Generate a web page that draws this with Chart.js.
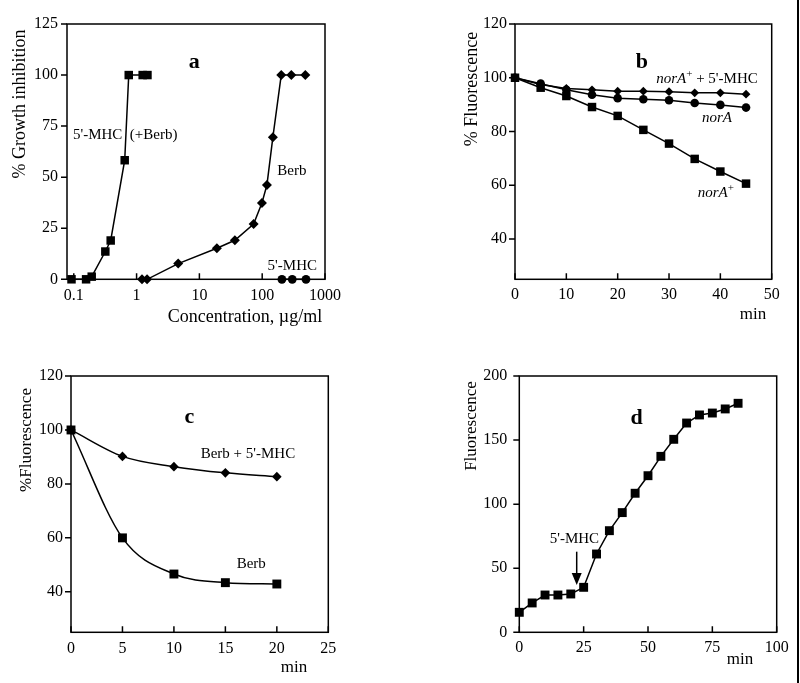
<!DOCTYPE html>
<html lang="en">
<head>
<meta charset="UTF-8" />
<title>5'-MHC / berberine figure</title>
<script src="https://cdn.jsdelivr.net/npm/chart.js"></script>
<style>
  body { margin: 0; background: #fff; }
  .page { position: relative; width: 800px; height: 683px; overflow: hidden; }
  .page canvas { position: absolute; }
  .edge { position: absolute; left: 797px; top: 0; width: 2px; height: 683px; background: #000; }
</style>
</head>
<body>
<div class="page">
  <canvas id="panelA" width="400" height="330" style="left:0;top:0"></canvas>
  <canvas id="panelB" width="400" height="330" style="left:400px;top:0"></canvas>
  <canvas id="panelC" width="400" height="353" style="left:0;top:330px"></canvas>
  <canvas id="panelD" width="400" height="353" style="left:400px;top:330px"></canvas>
  <div class="edge"></div>
</div>

<script>
// --- panel a: growth inhibition vs concentration (log x) ---
const concMhcBerb  = [0.092, 0.157, 0.193, 0.318, 0.387, 0.647, 0.75, 1.25, 1.49];
const inhibMhcBerb = [0, 0, 1.3, 13.6, 19, 58.3, 100, 100, 100];
const concBerb  = [1.22, 1.47, 4.6, 19, 36.7, 73, 99, 119, 148, 201, 291, 486];
const inhibBerb = [0, 0, 7.7, 15.2, 19.1, 27.1, 37.4, 46.2, 69.6, 100, 100, 100];
const concMhc  = [206, 301, 498];
const inhibMhc = [0, 0, 0];
const ticksA_x = [0.1, 1, 10, 100, 1000];
const ticksA_y = [0, 25, 50, 75, 100, 125];

// --- panel b: % fluorescence vs min ---
const minutesB   = [0, 5, 10, 15, 20, 25, 30, 35, 40, 45];
const norAplus   = [100, 96.3, 93.2, 89.1, 85.8, 80.6, 75.5, 69.8, 65.1, 60.6];
const norA       = [100, 97.8, 95.5, 93.7, 92.4, 92.0, 91.6, 90.6, 89.9, 88.9];
const norAplusMhc = [100, 97.5, 96.0, 95.5, 95.0, 95.0, 94.8, 94.4, 94.4, 93.9];
const ticksB_x = [0, 10, 20, 30, 40, 50];
const ticksB_y = [40, 60, 80, 100, 120];

// --- panel c ---
const minutesC = [0, 5, 10, 15, 20];
const berbC    = [100, 60, 46.6, 43.4, 42.9];
const berbMhcC = [100, 90.2, 86.4, 84.1, 82.7];
const ticksC_x = [0, 5, 10, 15, 20, 25];
const ticksC_y = [40, 60, 80, 100, 120];

// --- panel d ---
const minutesD = [0, 5, 10, 15, 20, 25, 30, 35, 40, 45, 50, 55, 60, 65, 70, 75, 80, 85];
const fluorD   = [15.6, 22.9, 29.1, 29.1, 29.9, 35.1, 61.1, 79.3, 93.4, 108.5, 122.2, 137.3, 150.6, 163.3, 169.6, 171.1, 174.3, 178.7];
const ticksD_x = [0, 25, 50, 75, 100];
const ticksD_y = [0, 50, 100, 150, 200];

const SERIF = "'Liberation Serif', 'DejaVu Serif', serif";

function pts(xs, ys) {
  return xs.map((x, i) => ({ x: x, y: ys[i] }));
}

function series(xs, ys, shape, r, smooth) {
  return {
    data: pts(xs, ys),
    borderColor: '#000',
    backgroundColor: '#000',
    borderWidth: 1.5,
    pointStyle: shape,
    pointRadius: r,
    pointHoverRadius: r,
    pointBorderWidth: 0,
    cubicInterpolationMode: smooth ? 'monotone' : 'default',
    clip: false
  };
}

function fontFor(p, size) {
  const sz = p.sup ? Math.round(size * 0.75) : size;
  return (p.bold ? 'bold ' : '') + (p.italic ? 'italic ' : '') + sz + 'px ' + SERIF;
}

function drawNote(ctx, parts, px, py, size, align, rot) {
  ctx.save();
  ctx.translate(px, py);
  if (rot) ctx.rotate(rot);
  ctx.textBaseline = 'middle';
  ctx.textAlign = 'left';
  ctx.fillStyle = '#000';
  const widths = parts.map(p => { ctx.font = fontFor(p, size); return ctx.measureText(p.t).width; });
  const total = widths.reduce((a, b) => a + b, 0);
  let x = align === 'center' ? -total / 2 : 0;
  parts.forEach((p, i) => {
    ctx.font = fontFor(p, size);
    ctx.fillText(p.t, x, p.sup ? -size * 0.3 : 0);
    x += widths[i];
  });
  ctx.restore();
}

// frame, ticks (x inward, y outward), notes and arrows
const paper = {
  id: 'paper',
  afterDraw(chart, args, opts) {
    const { ctx, chartArea: a, scales: { x, y } } = chart;
    ctx.save();
    ctx.strokeStyle = '#000';
    ctx.lineWidth = 1.5;
    ctx.strokeRect(a.left, a.top, a.right - a.left, a.bottom - a.top);
    ctx.beginPath();
    x.ticks.forEach(t => {
      const px = x.getPixelForValue(t.value);
      ctx.moveTo(px, a.bottom);
      ctx.lineTo(px, a.bottom - 6);
    });
    y.ticks.forEach(t => {
      const py = y.getPixelForValue(t.value);
      ctx.moveTo(a.left, py);
      ctx.lineTo(a.left - 6, py);
    });
    ctx.stroke();

    (opts.notes || []).forEach(n => {
      const px = x.getPixelForValue(n.x);
      const py = y.getPixelForValue(n.y);
      drawNote(ctx, n.parts, px, py, n.size || 15, n.align, 0);
    });
    (opts.titles || []).forEach(n => {
      drawNote(ctx, n.parts, n.px, n.py, n.size || 15, 'center', n.rot || 0);
    });
    (opts.arrows || []).forEach(ar => {
      const px = x.getPixelForValue(ar.x);
      const y0 = y.getPixelForValue(ar.y0);
      const y1 = y.getPixelForValue(ar.y1);
      ctx.beginPath();
      ctx.moveTo(px, y0);
      ctx.lineTo(px, y1 - 10);
      ctx.stroke();
      ctx.beginPath();
      ctx.moveTo(px - 5, y1 - 12);
      ctx.lineTo(px + 5, y1 - 12);
      ctx.lineTo(px, y1);
      ctx.closePath();
      ctx.fill();
    });
    ctx.restore();
  }
};

function makePanel(id, box, xScale, yScale, datasets, paperOpts) {
  const tickFont = { family: SERIF, size: 16 };
  const base = {
    grid: { display: false, drawTicks: false },
    border: { display: false },
    ticks: { color: '#000', font: tickFont, maxRotation: 0, autoSkip: false }
  };
  const xs = Object.assign({}, base, xScale, {
    ticks: Object.assign({}, base.ticks, { padding: box.xPad }, xScale.ticks || {}),
    afterBuildTicks: s => { s.ticks = xScale.tickValues.map(v => ({ value: v })); },
    afterFit: s => { s.height = box.xHeight; }
  });
  const ys = Object.assign({}, base, yScale, {
    ticks: Object.assign({}, base.ticks, { padding: box.yPad }, yScale.ticks || {}),
    afterBuildTicks: s => { s.ticks = yScale.tickValues.map(v => ({ value: v })); },
    afterFit: s => { s.width = box.yWidth; }
  });
  delete xs.tickValues;
  delete ys.tickValues;
  return new Chart(document.getElementById(id), {
    type: 'line',
    data: { datasets: datasets },
    options: {
      responsive: false,
      animation: false,
      events: [],
      layout: { autoPadding: false, padding: { top: box.top, right: box.right, left: 0, bottom: 0 } },
      plugins: { legend: { display: false }, tooltip: { enabled: false }, paper: paperOpts },
      scales: { x: xs, y: ys }
    },
    plugins: [paper]
  });
}

window.addEventListener('DOMContentLoaded', () => {
  // a
  makePanel('panelA',
    { top: 24, right: 75, xHeight: 50.7, yWidth: 67, xPad: 7, yPad: 9 },
    { type: 'logarithmic', min: 0.078, max: 1000, tickValues: ticksA_x,
      ticks: { callback: v => String(v) } },
    { type: 'linear', min: 0, max: 125, tickValues: ticksA_y },
    [
      series(concMhcBerb, inhibMhcBerb, 'rect', 6),
      series(concBerb, inhibBerb, 'rectRot', 5),
      series(concMhc, inhibMhc, 'circle', 4.4)
    ],
    {
      notes: [
        { x: 8.3, y: 106, align: 'center', size: 22, parts: [{ t: 'a', bold: true }] },
        { x: 0.097, y: 70.6, parts: [{ t: "5'-MHC  (+Berb)" }] },
        { x: 174, y: 53, parts: [{ t: 'Berb' }] },
        { x: 122, y: 6.5, parts: [{ t: "5'-MHC" }] }
      ],
      titles: [
        { px: 20, py: 104, rot: -Math.PI / 2, size: 18, parts: [{ t: '% Growth inhibition' }] },
        { px: 245, py: 317, size: 18, parts: [{ t: 'Concentration, \u00b5g/ml' }] }
      ]
    });

  // b
  makePanel('panelB',
    { top: 24, right: 28.3, xHeight: 50.7, yWidth: 115, xPad: 6, yPad: 8 },
    { type: 'linear', min: 0, max: 50, tickValues: ticksB_x },
    { type: 'linear', min: 25, max: 120, tickValues: ticksB_y },
    [
      series(minutesB, norAplus, 'rect', 6),
      series(minutesB, norA, 'circle', 4.3),
      series(minutesB, norAplusMhc, 'rectRot', 4.4)
    ],
    {
      notes: [
        { x: 24.7, y: 105.9, align: 'center', size: 22, parts: [{ t: 'b', bold: true }] },
        { x: 27.5, y: 99.5, parts: [{ t: 'norA', italic: true }, { t: '+', sup: true }, { t: " + 5'-MHC" }] },
        { x: 36.4, y: 85, parts: [{ t: 'norA', italic: true }] },
        { x: 35.6, y: 57.1, parts: [{ t: 'norA', italic: true }, { t: '+', sup: true }] }
      ],
      titles: [
        { px: 72, py: 89, rot: -Math.PI / 2, size: 18, parts: [{ t: '% Fluorescence' }] },
        { px: 353, py: 315, size: 17, parts: [{ t: 'min' }] }
      ]
    });

  // c
  makePanel('panelC',
    { top: 46, right: 71.7, xHeight: 50.7, yWidth: 71, xPad: 7, yPad: 8 },
    { type: 'linear', min: 0, max: 25, tickValues: ticksC_x },
    { type: 'linear', min: 25, max: 120, tickValues: ticksC_y },
    [
      series(minutesC, berbC, 'rect', 6.3, true),
      series(minutesC, berbMhcC, 'rectRot', 4.8, true)
    ],
    {
      notes: [
        { x: 11.5, y: 104.8, align: 'center', size: 22, parts: [{ t: 'c', bold: true }] },
        { x: 12.6, y: 91.1, parts: [{ t: "Berb + 5'-MHC" }] },
        { x: 16.1, y: 50.3, parts: [{ t: 'Berb' }] }
      ],
      titles: [
        { px: 27, py: 110, rot: -Math.PI / 2, size: 17, parts: [{ t: '%Fluorescence' }] },
        { px: 294, py: 338, size: 17, parts: [{ t: 'min' }] }
      ]
    });

  // d
  makePanel('panelD',
    { top: 46, right: 23.3, xHeight: 50.7, yWidth: 119.3, xPad: 6, yPad: 12 },
    { type: 'linear', min: 0, max: 100, tickValues: ticksD_x },
    { type: 'linear', min: 0, max: 200, tickValues: ticksD_y },
    [
      series(minutesD, fluorD, 'rect', 6.3)
    ],
    {
      notes: [
        { x: 45.6, y: 167.2, align: 'center', size: 22, parts: [{ t: 'd', bold: true }] },
        { x: 21.4, y: 72.8, align: 'center', parts: [{ t: "5'-MHC" }] }
      ],
      arrows: [{ x: 22.3, y0: 62.9, y1: 36.9 }],
      titles: [
        { px: 72, py: 96, rot: -Math.PI / 2, size: 17, parts: [{ t: 'Fluorescence' }] },
        { px: 340, py: 330, size: 17, parts: [{ t: 'min' }] }
      ]
    });
});
</script>
</body>
</html>
